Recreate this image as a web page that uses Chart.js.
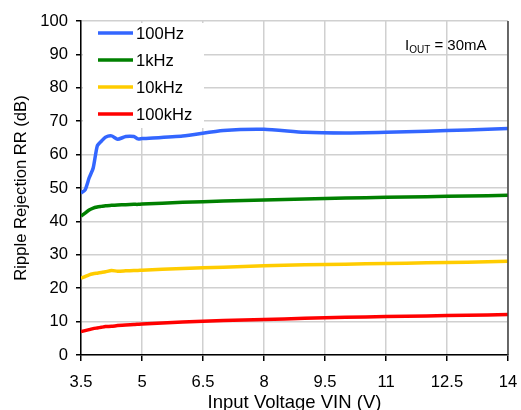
<!DOCTYPE html>
<html>
<head>
<meta charset="utf-8">
<script src="https://cdn.jsdelivr.net/npm/chart.js@4"></script>
<style>
  html, body { margin: 0; padding: 0; background: #fff; }
  #wrap { width: 521px; height: 410px; }
</style>
</head>
<body>
<div id="wrap"><canvas id="rrChart" width="521" height="410"></canvas></div>
<script>
// datos
const vin = [3.5, 3.6, 3.7, 3.8, 3.9, 4.0, 4.1, 4.25, 4.4, 4.6, 4.8, 4.9, 5, 6, 7, 8, 9, 10, 11, 12, 13, 14];
const rr100Hz = [48.5, 49.4, 53, 56, 62.6, 64, 65.2, 65.6, 64.6, 65.4, 65.4, 64.7, 64.8, 65.6, 67.2, 67.6, 66.7, 66.5, 66.7, 67, 67.4, 67.8];
const rr1kHz = [41.6, 42.5, 43.4, 44, 44.3, 44.5, 44.7, 44.8, 44.9, 45, 45.1, 45.1, 45.2, 45.7, 46.1, 46.4, 46.7, 47, 47.2, 47.4, 47.6, 47.8];
const rr10kHz = [23, 23.5, 24, 24.3, 24.5, 24.7, 24.9, 25.3, 25.1, 25.2, 25.3, 25.3, 25.4, 25.9, 26.3, 26.7, 27, 27.2, 27.4, 27.6, 27.8, 28.1];
const rr100kHz = [7, 7.3, 7.6, 7.9, 8.1, 8.3, 8.5, 8.6, 8.8, 9, 9.1, 9.2, 9.3, 9.9, 10.3, 10.6, 11, 11.3, 11.5, 11.7, 11.9, 12.1];
const xTicks = [3.5, 5, 6.5, 8, 9.5, 11, 12.5, 14];
const seriesLabels = ['100Hz', '1kHz', '10kHz', '100kHz'];
const seriesColors = ['#3366ff', '#008000', '#ffcc00', '#ff0000'];

const FONT = "'Liberation Sans', Arial, sans-serif";

function toPoints(ys) {
    return vin.map((x, i) => ({ x: x, y: ys[i] }));
}

// leyenda dentro del area y la nota de corriente
const overlayPlugin = {
    id: 'overlay',
    beforeDatasetsDraw(chart) {
        const ctx = chart.ctx;
        const area = chart.chartArea;
        ctx.save();
        ctx.fillStyle = '#fff';
        ctx.fillRect(area.left + 2, area.top + 2, 121, 105);
        chart.data.datasets.forEach((ds, i) => {
            const y = 33 + i * 27;
            ctx.strokeStyle = ds.borderColor;
            ctx.lineWidth = 3.5;
            ctx.beginPath();
            ctx.moveTo(98, y);
            ctx.lineTo(133, y);
            ctx.stroke();
            ctx.fillStyle = '#000';
            ctx.font = '16.6px ' + FONT;
            ctx.textBaseline = 'middle';
            ctx.fillText(ds.label, 136, y + 1);
        });
        // I_OUT = 30mA
        ctx.fillStyle = '#000';
        ctx.textBaseline = 'alphabetic';
        ctx.font = '15px ' + FONT;
        let x = 405;
        ctx.fillText('I', x, 50);
        x += ctx.measureText('I').width;
        ctx.font = '10px ' + FONT;
        ctx.fillText('OUT', x, 53);
        x += ctx.measureText('OUT').width;
        ctx.font = '15px ' + FONT;
        ctx.fillText(' = 30mA', x, 50);
        ctx.restore();
    },
    afterDraw(chart) {
        const ctx = chart.ctx;
        const area = chart.chartArea;
        ctx.save();
        ctx.strokeStyle = '#404040';
        ctx.lineWidth = 1.5;
        ctx.beginPath();
        ctx.moveTo(area.right, area.top);
        ctx.lineTo(area.right, area.bottom);
        ctx.stroke();
        ctx.restore();
    }
};

const rrCtx = document.getElementById('rrChart').getContext('2d');
new Chart(rrCtx, {
    type: 'line',
    data: {
        datasets: [rr100Hz, rr1kHz, rr10kHz, rr100kHz].map((ys, i) => ({
            label: seriesLabels[i],
            data: toPoints(ys),
            borderColor: seriesColors[i],
            backgroundColor: seriesColors[i],
            borderWidth: 3.5,
            pointRadius: 0,
            tension: 0.2,
            borderJoinStyle: 'round',
            fill: false
        }))
    },
    options: {
        responsive: false,
        animation: false,
        layout: { padding: { top: 21, right: 13, left: 0, bottom: 0 } },
        plugins: {
            legend: { display: false },
            tooltip: { enabled: false }
        },
        scales: {
            x: {
                type: 'linear',
                min: 3.5,
                max: 14,
                afterBuildTicks: scale => {
                    scale.ticks = xTicks.map(v => ({ value: v }));
                },
                afterFit: scale => {
                    scale.height = 55;
                    scale.paddingLeft = 0;
                    scale.paddingRight = 0;
                },
                grid: {
                    color: '#d0d0d0',
                    lineWidth: 1.5,
                    tickColor: '#000',
                    tickLength: 6
                },
                border: { color: '#000', width: 1.5 },
                ticks: {
                    color: '#000',
                    font: { family: FONT, size: 16.6 },
                    padding: 11,
                    maxRotation: 0
                },
                title: {
                    display: true,
                    text: 'Input Voltage VIN (V)',
                    color: '#000',
                    font: { family: FONT, size: 18.5 },
                    padding: { top: 0, bottom: -4 }
                }
            },
            y: {
                min: 0,
                max: 100,
                afterFit: scale => { scale.width = 81; },
                grid: {
                    color: '#d0d0d0',
                    lineWidth: 1.5,
                    tickColor: '#000',
                    tickLength: 5
                },
                border: { color: '#000', width: 1.5 },
                ticks: {
                    stepSize: 10,
                    color: '#000',
                    font: { family: FONT, size: 16.6 },
                    padding: 8
                },
                title: {
                    display: true,
                    text: 'Ripple Rejection RR (dB)',
                    color: '#000',
                    font: { family: FONT, size: 16.6 },
                    padding: { top: 11, bottom: 0 }
                }
            }
        }
    },
    plugins: [overlayPlugin]
});
</script>
</body>
</html>
